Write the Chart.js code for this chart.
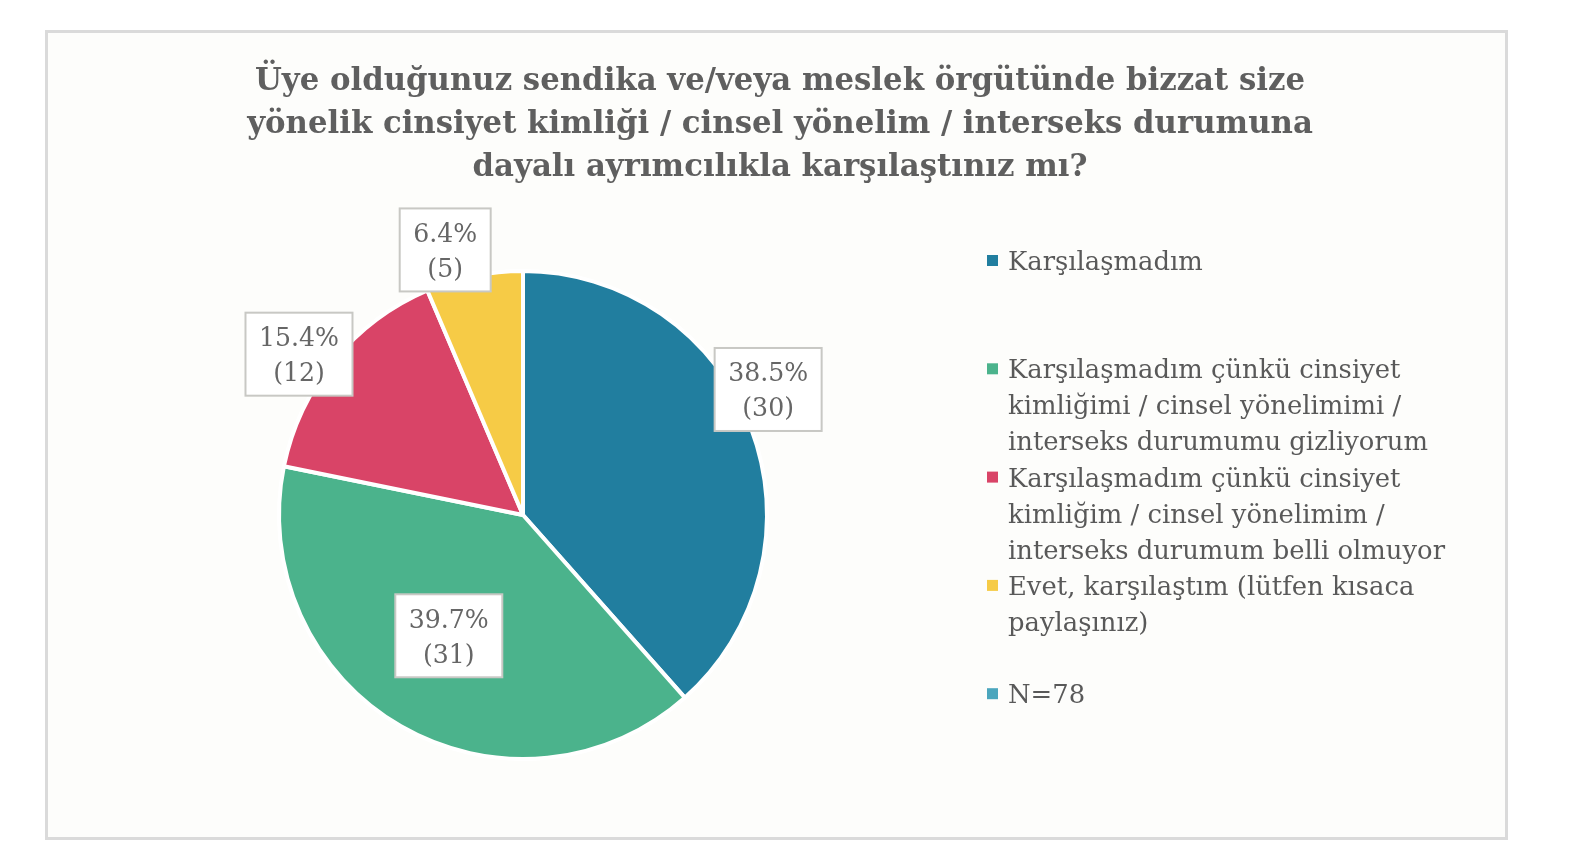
<!DOCTYPE html>
<html>
<head>
<meta charset="utf-8">
<script src="https://cdn.jsdelivr.net/npm/chart.js@4.4.1/dist/chart.umd.min.js"></script>
<style>
html,body{margin:0;padding:0;background:#ffffff;width:1570px;height:865px;overflow:hidden}
#frame{position:absolute;left:45px;top:30px;width:1457px;height:804px;border:3px solid #dadada;background:#fdfdfb}
#c{position:absolute;left:0;top:0}
</style>
</head>
<body>
<div id="frame"></div>
<canvas id="c" width="1570" height="865"></canvas>
<script>
// ---- data ----
const titleLines = [
  'Üye olduğunuz sendika ve/veya meslek örgütünde bizzat size',
  'yönelik cinsiyet kimliği / cinsel yönelim / interseks durumuna',
  'dayalı ayrımcılıkla karşılaştınız mı?'
];
const categories = [
  ['Karşılaşmadım'],
  ['Karşılaşmadım çünkü cinsiyet', 'kimliğimi / cinsel yönelimimi /', 'interseks durumumu gizliyorum'],
  ['Karşılaşmadım çünkü cinsiyet', 'kimliğim / cinsel yönelimim /', 'interseks durumum belli olmuyor'],
  ['Evet, karşılaştım (lütfen kısaca', 'paylaşınız)']
];
const counts = [30, 31, 12, 5];
const sliceColors = ['#217e9f', '#4bb38c', '#d94467', '#f6cb46'];
const sampleNote = 'N=78';
const sampleNoteColor = '#4ba6bd';

// ---- drawing helpers ----
function scaledText(ctx, text, x, y, sx, align) {
  ctx.save();
  ctx.translate(x, y);
  ctx.scale(sx, 1);
  ctx.textAlign = align;
  ctx.fillText(text, 0, 0);
  ctx.restore();
}

const overlayPlugin = {
  id: 'overlay',
  afterDatasetsDraw(chart, args, opts) {
    const ctx = chart.ctx;
    const meta = chart.getDatasetMeta(0);
    const data = chart.data.datasets[0].data;
    const total = data.reduce((a, b) => a + b, 0);

    // --- boxed data labels ---
    ctx.save();
    ctx.font = opts.labelFont;
    ctx.textBaseline = 'alphabetic';
    const refW = ctx.measureText('38.5%').width;
    const lsx = opts.labelRefWidth / refW;
    meta.data.forEach((arc, i) => {
      const p = arc.getProps(['x', 'y', 'startAngle', 'endAngle', 'outerRadius'], true);
      const mid = (p.startAngle + p.endAngle) / 2;
      const place = opts.placement[i];
      const cx = p.x + Math.cos(mid) * p.outerRadius * place.k + place.dx;
      const cy = p.y + Math.sin(mid) * p.outerRadius * place.k + place.dy;
      const l1 = (data[i] / total * 100).toFixed(1) + '%';
      const l2 = '(' + data[i] + ')';
      const w = Math.max(ctx.measureText(l1).width, ctx.measureText(l2).width) * lsx + 27;
      const h = 83;
      ctx.fillStyle = '#ffffff';
      ctx.fillRect(cx - w / 2, cy - h / 2, w, h);
      ctx.strokeStyle = '#c8c8c4';
      ctx.lineWidth = 2;
      ctx.strokeRect(cx - w / 2, cy - h / 2, w, h);
      ctx.fillStyle = '#666666';
      scaledText(ctx, l1, cx, cy - 8, lsx, 'center');
      scaledText(ctx, l2, cx, cy + 27, lsx, 'center');
    });
    ctx.restore();
  },
  afterDraw(chart, args, opts) {
    const ctx = chart.ctx;
    // --- title ---
    ctx.save();
    ctx.font = opts.titleFont;
    ctx.fillStyle = '#5f5f5f';
    ctx.textBaseline = 'alphabetic';
    const tsx = opts.titleRefWidth / ctx.measureText(titleLines[0]).width;
    titleLines.forEach((t, j) => scaledText(ctx, t, opts.titleX, opts.titleY + j * 43, tsx, 'center'));
    ctx.restore();

    // --- legend ---
    ctx.save();
    ctx.font = opts.legendFont;
    ctx.textBaseline = 'alphabetic';
    const gsx = opts.legendRefWidth / ctx.measureText(categories[2][2]).width;
    const colors = chart.data.datasets[0].backgroundColor;
    const items = chart.data.labels.map((lines, i) => ({lines, color: colors[i]}));
    items.push({lines: [sampleNote], color: sampleNoteColor});
    items.forEach((it, i) => {
      const base = opts.legendY + i * 108.3;
      ctx.fillStyle = it.color;
      ctx.fillRect(opts.legendX - 21, base - 15, 11, 11);
      ctx.fillStyle = '#595959';
      it.lines.forEach((line, j) => scaledText(ctx, line, opts.legendX, base + j * 36, gsx, 'left'));
    });
    ctx.restore();
  }
};

new Chart(document.getElementById('c'), {
  type: 'pie',
  data: {
    labels: categories,
    datasets: [{
      data: counts,
      backgroundColor: sliceColors,
      borderColor: '#ffffff',
      borderWidth: 4
    }]
  },
  options: {
    responsive: false,
    animation: false,
    events: [],
    layout: {padding: {left: 277, right: 801, top: 269, bottom: 104}},
    plugins: {
      legend: {display: false},
      title: {display: false},
      tooltip: {enabled: false},
      overlay: {
        labelFont: '26px "DejaVu Serif", serif',
        labelRefWidth: 80,
        placement: [
          {k: 1.0, dx: 17, dy: -39},
          {k: 0.6, dx: -1, dy: -6},
          {k: 1.0, dx: -35, dy: -6.5},
          {k: 1.0, dx: -29, dy: -26}
        ],
        titleFont: 'bold 32px "DejaVu Serif Condensed", "DejaVu Serif", serif',
        titleRefWidth: 1050,
        titleX: 780,
        titleY: 90,
        legendFont: '26px "DejaVu Serif", serif',
        legendRefWidth: 437,
        legendX: 1008,
        legendY: 270
      }
    }
  },
  plugins: [overlayPlugin]
});
</script>
</body>
</html>
